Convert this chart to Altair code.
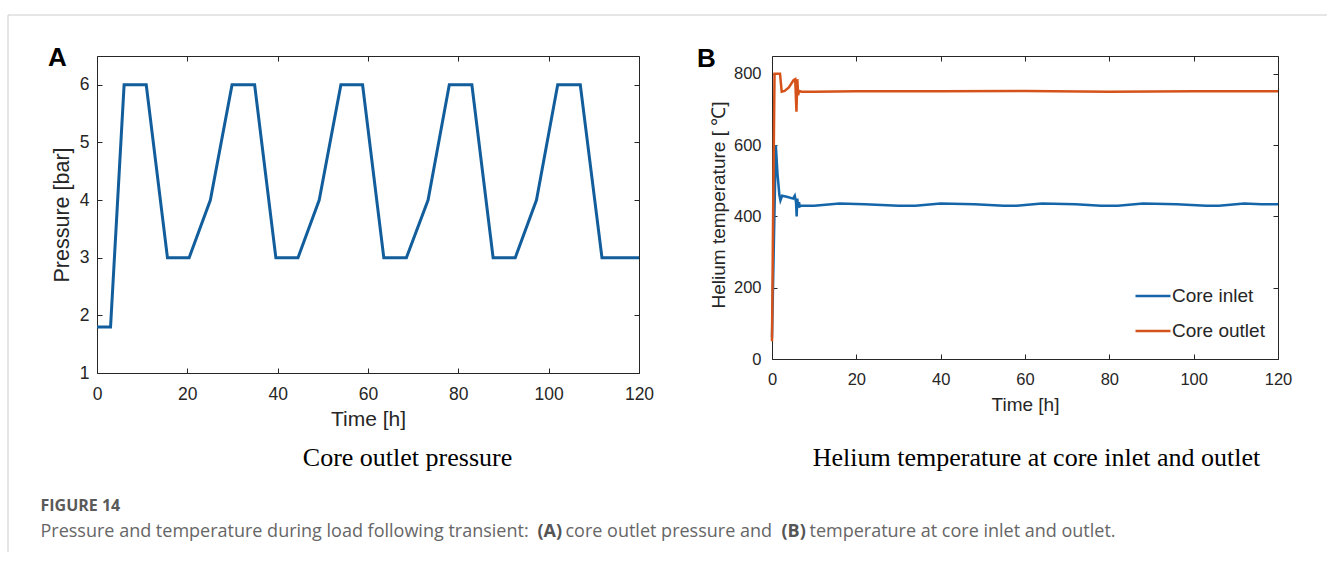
import altair as alt
import pandas as pd

# ---------------- data ----------------
# Panel A: core outlet pressure
time_a = [0, 3.0, 6.0, 10.9, 15.6, 20.4, 25.1, 29.9, 34.9, 39.6, 44.5, 49.2, 54.0,
          58.8, 63.5, 68.5, 73.3, 78.0, 83.0, 87.7, 92.6, 97.3, 102.0, 107.0, 111.8, 120]
pressure_a = [1.8, 1.8, 6, 6, 3, 3, 4, 6, 6, 3, 3, 4, 6,
              6, 3, 3, 4, 6, 6, 3, 3, 4, 6, 6, 3, 3]

# Panel B: helium temperature
time_in = [0, 0.9, 1.3, 1.75, 2.0, 2.4, 3.5, 5.0, 5.4, 5.7, 5.85, 6.0, 6.2, 6.4, 6.6, 7.0,
           10, 16, 22, 30, 34, 40, 48, 55, 58, 64, 72, 78, 82, 88, 96, 103, 106, 112, 116, 120]
temp_in = [60, 600, 520, 460, 445, 458, 455, 450, 458, 440, 400, 450, 425, 440, 428, 430,
           430, 436, 434, 430, 430, 436, 434, 430, 430, 436, 434, 430, 430, 436, 434, 430, 430, 436, 434, 434]

time_out = [0, 0.3, 0.6, 1.9, 2.3, 3.0, 4.0, 5.1, 5.5, 5.8, 6.0, 6.2, 6.4, 7.0,
            10, 20, 40, 60, 80, 100, 120]
temp_out = [50, 450, 800, 800, 750, 752, 762, 782, 785, 694, 785, 740, 752, 750,
            750, 751, 751, 752, 750, 751, 751]

series_names = ["Core inlet", "Core outlet"]

x_ticks = [0, 20, 40, 60, 80, 100, 120]
y_ticks_a = [1, 2, 3, 4, 5, 6]
y_ticks_b = [0, 200, 400, 600, 800]

caption_parts = ["Pressure and temperature during load following transient:", "(A)",
                 "core outlet pressure and", "(B)", "temperature at core inlet and outlet."]

# ---------------- tables ----------------
df_a = pd.DataFrame({"t": time_a, "p": pressure_a})
df_b = pd.concat([
    pd.DataFrame({"t": time_in, "T": temp_in, "s": series_names[0]}),
    pd.DataFrame({"t": time_out, "T": temp_out, "s": series_names[1]}),
], ignore_index=True)

AX_FONT = "Liberation Sans"
AX_COL = "#262626"
BLUE_A = "#125E9C"
BLUE_B = "#1565A9"
ORANGE = "#D5531A"
CAP_COL = "#666666"
CAP_FONT = "Open Sans"
CAP_SIZE = 18


def one():
    return alt.Data(values=[{"k": 0}])


def text(txt, x, y, size, font, color, weight="normal", align="center"):
    return alt.Chart(one()).mark_text(
        text=txt, fontSize=size, font=font, color=color, fontWeight=weight,
        align=align, baseline="middle"
    ).encode(x=alt.value(x), y=alt.value(y))


def tick_axis(orient, values):
    return alt.Axis(orient=orient, offset=-5, tickSize=5, ticks=True, labels=False,
                    domain=False, grid=False, title=None, values=values,
                    tickColor=AX_COL, tickWidth=1)


def main_axis(orient, values, title, tx, ty, lpad, lsize, tsize):
    return alt.Axis(orient=orient, values=values, ticks=False, tickSize=0, domain=False,
                    grid=False, labelPadding=lpad, labelFontSize=lsize, labelFont=AX_FONT,
                    labelColor=AX_COL, labelFlush=False, title=title, titleFont=AX_FONT,
                    titleFontSize=tsize, titleFontWeight="normal", titleColor=AX_COL,
                    titleX=tx, titleY=ty, titleBaseline="middle")


# ---------------- panel A ----------------
WA, HA = 542, 317
xs_a = alt.Scale(domain=[0, 120], nice=False)
ys_a = alt.Scale(domain=[1, 6.5], nice=False)

line_a = alt.Chart(df_a).mark_line(color=BLUE_A, strokeWidth=3).encode(
    x=alt.X("t:Q", scale=xs_a, axis=main_axis("bottom", x_ticks, "Time [h]", WA / 2, 46, 12, 17.5, 21)),
    y=alt.Y("p:Q", scale=ys_a, axis=main_axis("left", y_ticks_a, "Pressure [bar]", -34.5, HA / 2, 8, 17.5, 21.5)),
)
ticks_a1 = alt.Chart(df_a).mark_line(opacity=0).encode(
    x=alt.X("t:Q", scale=xs_a, axis=tick_axis("top", x_ticks)),
    y=alt.Y("p:Q", scale=ys_a, axis=tick_axis("right", y_ticks_a)),
)
ticks_a2 = alt.Chart(df_a).mark_line(opacity=0).encode(
    x=alt.X("t:Q", scale=xs_a, axis=tick_axis("bottom", x_ticks)),
    y=alt.Y("p:Q", scale=ys_a, axis=tick_axis("left", y_ticks_a)),
)

frame_v = alt.Chart(one()).mark_rule(color="#cccccc", strokeWidth=1).encode(
    x=alt.value(-89), y=alt.value(-41), y2=alt.value(496))
frame_h = alt.Chart(one()).mark_rule(color="#cccccc", strokeWidth=1).encode(
    x=alt.value(-89), x2=alt.value(1230), y=alt.value(-41))

panel_a = alt.layer(
    line_a, ticks_a1, ticks_a2,
    text("A", -39.5, 1.5, 26, AX_FONT, "#000000", "bold"),
    text("Core outlet pressure", 310.5, 401.5, 26, "Liberation Serif", "#000000"),
    frame_v, frame_h,
    text("FIGURE 14", -56.5, 449.5, 16, CAP_FONT, "#5a5a5a", "bold", "left"),
    text(caption_parts[0], -56.5, 475.5, CAP_SIZE, CAP_FONT, CAP_COL, "normal", "left"),
    text(caption_parts[1], 440.5, 475.5, CAP_SIZE, CAP_FONT, "#555555", "bold", "left"),
    text(caption_parts[2], 468.5, 475.5, CAP_SIZE, CAP_FONT, CAP_COL, "normal", "left"),
    text(caption_parts[3], 684.5, 475.5, CAP_SIZE, CAP_FONT, "#555555", "bold", "left"),
    text(caption_parts[4], 712.5, 475.5, CAP_SIZE, CAP_FONT, CAP_COL, "normal", "left"),
).resolve_axis(x="independent", y="independent").properties(width=WA, height=HA)

# ---------------- panel B ----------------
WB, HB = 506, 303
xs_b = alt.Scale(domain=[0, 120], nice=False)
ys_b = alt.Scale(domain=[0, 850], nice=False)

line_b = alt.Chart(df_b).mark_line(strokeWidth=2.5).encode(
    x=alt.X("t:Q", scale=xs_b, axis=main_axis("bottom", x_ticks, "Time [h]", WB / 2, 45.5, 12, 16.5, 19)),
    y=alt.Y("T:Q", scale=ys_b, axis=main_axis("left", y_ticks_b, "Helium temperature [ \u2103]", -53.5, 148.5, 11, 16.5, 19)),
    color=alt.Color("s:N", scale=alt.Scale(domain=series_names, range=[BLUE_B, ORANGE]),
                    legend=alt.Legend(orient="none", legendX=362, legendY=221, title=None,
                                      symbolType="stroke", symbolSize=1225, symbolStrokeWidth=2.5,
                                      labelFontSize=19, labelFont=AX_FONT, labelColor=AX_COL,
                                      labelOffset=0, rowPadding=6, padding=0)),
    detail="s:N",
)
ticks_b1 = alt.Chart(df_b).mark_line(opacity=0).encode(
    x=alt.X("t:Q", scale=xs_b, axis=tick_axis("top", x_ticks)),
    y=alt.Y("T:Q", scale=ys_b, axis=tick_axis("right", y_ticks_b)),
    detail="s:N",
)
ticks_b2 = alt.Chart(df_b).mark_line(opacity=0).encode(
    x=alt.X("t:Q", scale=xs_b, axis=tick_axis("bottom", x_ticks)),
    y=alt.Y("T:Q", scale=ys_b, axis=tick_axis("left", y_ticks_b)),
    detail="s:N",
)

panel_b = alt.layer(
    line_b, ticks_b1, ticks_b2,
    text("B", -65.5, 2.5, 26, AX_FONT, "#000000", "bold"),
    text("Helium temperature at core inlet and outlet", 264.5, 401.5, 26, "Liberation Serif", "#000000"),
).resolve_axis(x="independent", y="independent").properties(width=WB, height=HB)

chart = alt.hconcat(panel_a, panel_b, spacing=133, bounds="flush").resolve_scale(
    color="independent").resolve_legend(color="independent").properties(
    padding={"left": 7, "top": 14, "right": 0, "bottom": 0},
    background="white",
).configure_view(stroke=AX_COL, strokeWidth=1)

chart.save("out.html", embed_options={"renderer": "svg", "actions": False})
